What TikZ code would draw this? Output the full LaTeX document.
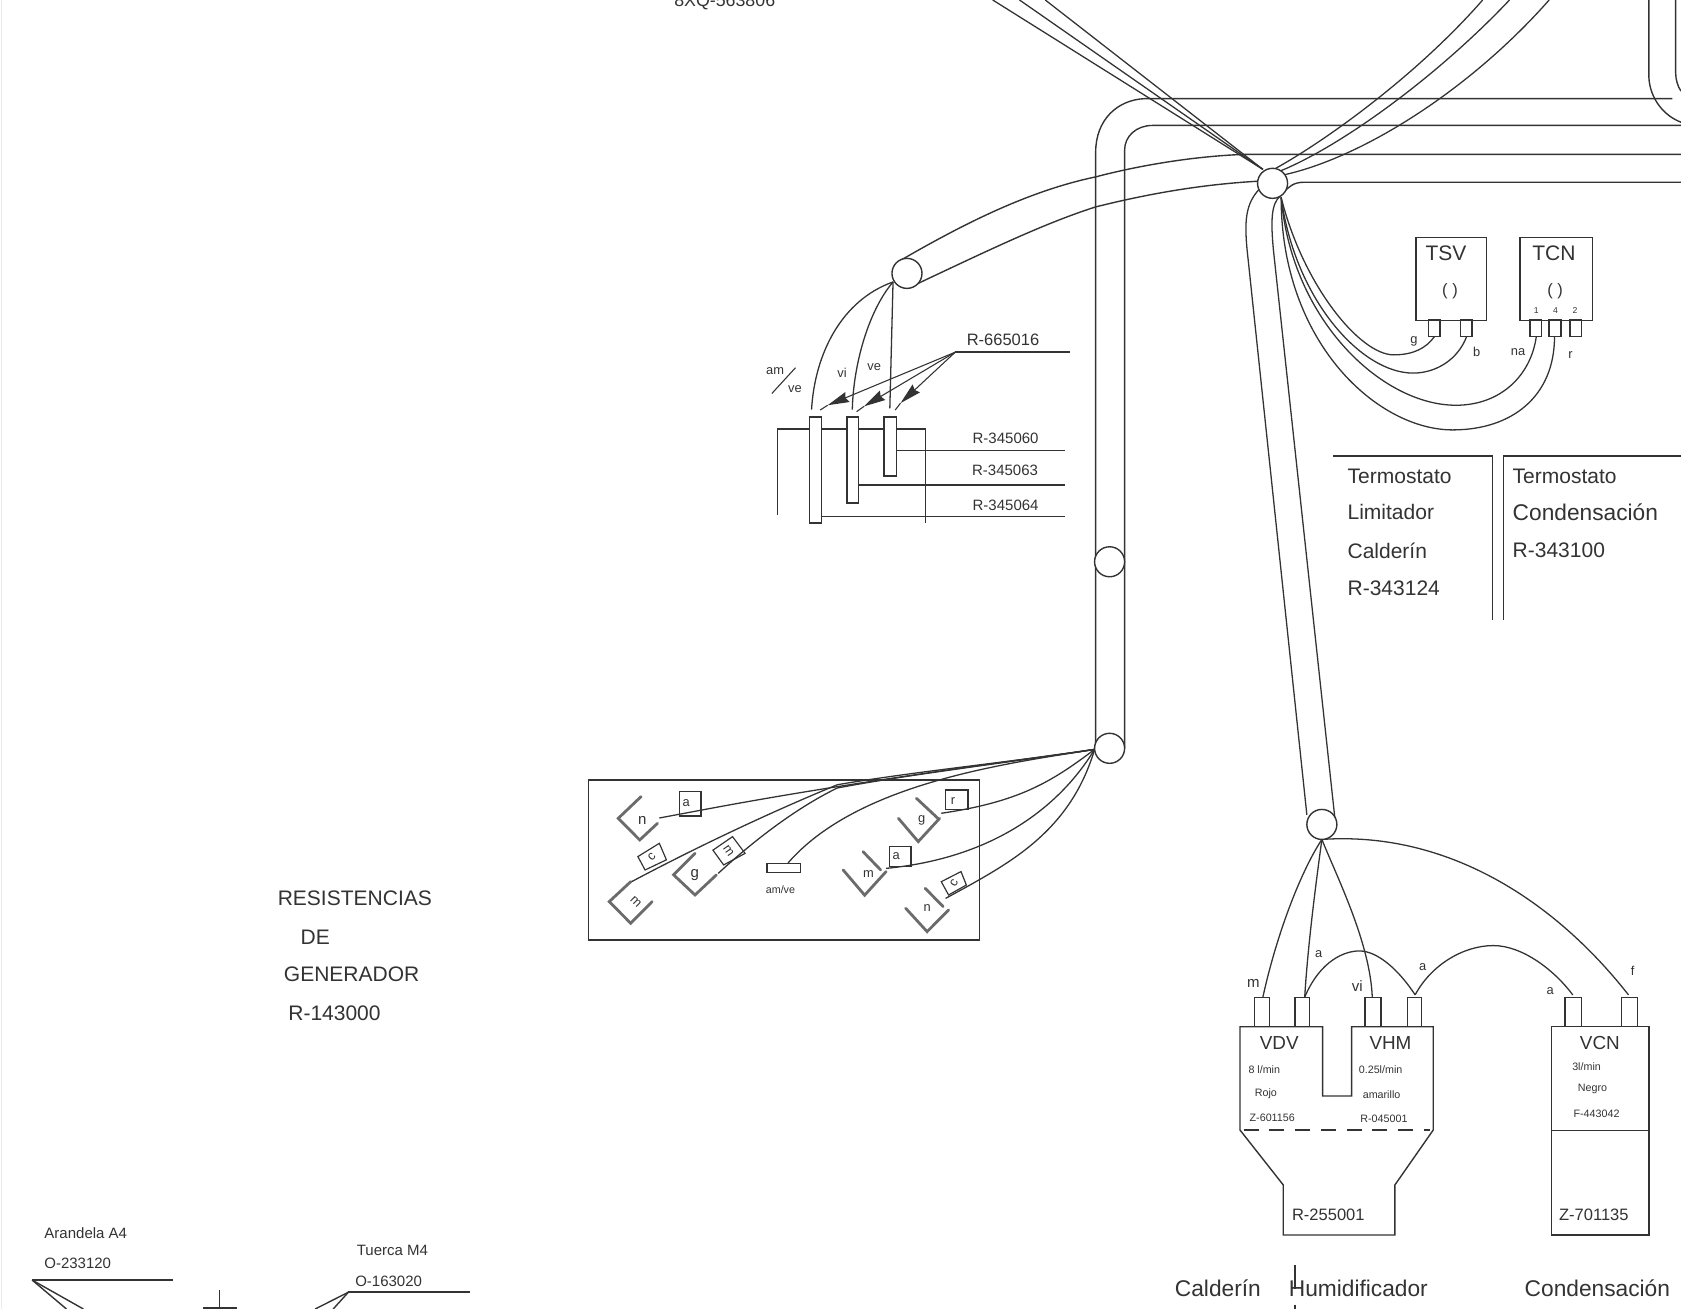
\documentclass[tikz,border=0pt]{standalone}
\usepackage{fontspec}
\setmainfont{Liberation Sans}
\usetikzlibrary{arrows.meta}
\definecolor{ink}{gray}{0.2}
\definecolor{lugc}{gray}{0.42}
\newcommand{\fz}[1]{\fontsize{#1pt}{#1pt}\selectfont}
\tikzset{
  wire/.style={draw=ink,line width=0.6pt},
  frame/.style={draw=ink,line width=0.65pt},
  lug/.style={draw=lugc,line width=1.3pt,line cap=round,line join=miter},
  lead/.style={draw=ink,line width=0.5pt},
  ring/.style={circle,draw=ink,line width=0.65pt,fill=white,minimum size=14pt,inner sep=0pt},
  lbl/.style={text=ink,inner sep=0pt,outer sep=0pt},
  t4/.style={lbl,font=\fz{4}},
  t5/.style={lbl,font=\fz{5}},
  t6/.style={lbl,font=\fz{6}},
  t7/.style={lbl,font=\fz{7}},
  t8/.style={lbl,font=\fz{7.7}},
  t9/.style={lbl,font=\fz{8.8}},
  t10/.style={lbl,font=\fz{9.8}},
  t11/.style={lbl,font=\fz{10.6}},
}
\begin{document}
\begin{tikzpicture}[x=0.5pt,y=-0.5pt]
\useasboundingbox (0,0) rectangle (1568,1221);
\fill[white] (0,0) rectangle (1568,1221);
\draw[black!8,line width=0.6pt] (1.5,0) -- (1.5,1221);

% ---- named junctions
\coordinate (hubNW) at (1178,158);
\coordinate (hubNE) at (1193,160);
\coordinate (hubS)  at (1195,184);
\coordinate (sP)    at (833,263);
\coordinate (qQ)    at (1021,699);
\coordinate (sS)    at (1233,783);
\coordinate (ldr)   at (891,328.5);

% ---- long vertical tube and top horizontals
\draw[frame] (1022,698) -- (1022,142) .. controls (1022,112) and (1042,93) .. (1068,92) -- (1560,92);
\draw[frame] (1049,698) -- (1049,140) .. controls (1049,127) and (1060,117) .. (1075,117) -- (1568,117);
% ---- upper right tube
\draw[frame] (1538,0) -- (1538,72) .. controls (1539,92) and (1552,108) .. (1568,114);
\draw[frame] (1563,0) -- (1563,68) .. controls (1563,74) and (1565,81) .. (1568,85);
% ---- tube to resistor plug
\draw[frame] (838,244) .. controls (900,208) and (960,178) .. (1022,165) .. controls (1060,155) and (1110,146) .. (1160,144) -- (1568,144);
\draw[frame] (855,265) .. controls (925,232) and (975,208) .. (1022,193) .. controls (1070,181) and (1120,172) .. (1174,169);
\draw[frame] (1197,180) .. controls (1202,174) and (1207,170) .. (1216,170) -- (1568,170);
% ---- wires to upper left
\draw[wire] (hubNW) -- (926,0);
\draw[wire] (hubNW) -- (951,0);
\draw[wire] (hubNW) -- (975,0);
% ---- wires to upper right
\draw[wire] (1190,157) .. controls (1235,132) and (1320,72) .. (1383,0);
\draw[wire] (1193,160) .. controls (1250,137) and (1340,72) .. (1408,0);
\draw[wire] (1198,163) .. controls (1270,147) and (1370,85) .. (1445,0);
% ---- tube down to heaters
\draw[wire] (1175,176) .. controls (1162,190) and (1160,205) .. (1164,240) -- (1219,760);
\draw[wire] (1194,183) .. controls (1186,190) and (1185,205) .. (1188,235) -- (1245,762);

% ---- thermostats
\node[draw=ink,line width=0.65pt,minimum width=33pt,minimum height=38.8pt,inner sep=0pt,anchor=north west] (tsv) at (1320,220.7) {};
\node[draw=ink,line width=0.65pt,minimum width=33.8pt,minimum height=38.8pt,inner sep=0pt,anchor=north west] (tcn) at (1417,220.7) {};
\draw[frame] (1332.5,298.4) rectangle (1343,314);
\draw[frame] (1362.5,298.4) rectangle (1373,314);
\draw[frame] (1427,298.4) rectangle (1438,314);
\draw[frame] (1445,298.4) rectangle (1456,314);
\draw[frame] (1464.5,298.4) rectangle (1475,314);
\node[t10] (ltsv) at (1348.8,236) {TSV};
\node[t10] (ltcn) at (1449.5,236) {TCN};
\node[t8] (ptsv) at (1352.5,272) {( )};
\node[t8] (ptcn) at (1450.5,272) {( )};
\node[t4] (p1) at (1433,290) {1};
\node[t4] (p4) at (1451,290) {4};
\node[t4] (p2) at (1469,290) {2};
\node[t6] (lg) at (1319,318.6) {g};
\node[t6] (lb) at (1377.4,328) {b};
\node[t6] (lna) at (1416,328) {na};
\node[t6] (lr) at (1465,331) {r};
\draw[wire] (hubS) .. controls (1215,265) and (1268,331) .. (1300,331) .. controls (1318,331) and (1330,325) .. (1338,314);
\draw[wire] (hubS) .. controls (1208,280) and (1270,348) .. (1318,348) .. controls (1340,348) and (1360,335) .. (1368,314);
\draw[wire] (hubS) .. controls (1205,300) and (1290,378) .. (1358,378) .. controls (1400,378) and (1428,350) .. (1433,314);
\draw[wire] (hubS) .. controls (1195,320) and (1285,401) .. (1355,401) .. controls (1410,401) and (1450,370) .. (1450,314);

% ---- thermostat panels
\draw[frame] (1243.7,425.3) -- (1392.3,425.3) -- (1392.3,578);
\draw[frame] (1402.3,578) -- (1402.3,425.3) -- (1568,425.3);
\node[t10,anchor=west] (tm1) at (1257,443.9) {Termostato};
\node[t10,anchor=west] (tm2) at (1257,478) {Limitador};
\node[t10,anchor=west] (tm3) at (1257,513.6) {Calderín};
\node[t10,anchor=west] (tm4) at (1257,548.7) {R-343124};
\node[t10,anchor=west] (tn1) at (1411,443.9) {Termostato};
\node[t11,anchor=west] (tn2) at (1411,478) {Condensación};
\node[t10,anchor=west] (tn3) at (1411,513.6) {R-343100};

% ---- plug with three terminals
\draw[wire] (sP) .. controls (785,280) and (760,330) .. (757,382);
\draw[wire] (sP) .. controls (810,290) and (796,340) .. (795,382);
\draw[wire] (sP) -- (830,381);
\draw[frame] (755,389) rectangle (766.5,488);
\draw[frame] (790,389) rectangle (801,469);
\draw[frame] (824.5,389) rectangle (836,444);
\draw[frame] (725,480) -- (725,400) -- (755,400) (766.5,400) -- (790,400) (801,400) -- (824.5,400) (836,400) -- (863,400) -- (863,488);
\draw[frame] (836,420) -- (993,420);
\draw[frame] (801,452.5) -- (993,452.5);
\draw[frame] (766.5,481.5) -- (993,481.5);
\draw[frame] (ldr) -- (998,328.5);
\draw[lead,-{Stealth[length=10pt,width=5pt,inset=1pt]}] (ldr) -- (772,378);
\draw[lead,-{Stealth[length=10pt,width=5pt,inset=1pt]}] (ldr) -- (806,379);
\draw[lead,-{Stealth[length=10pt,width=5pt,inset=1pt]}] (ldr) -- (840,376);
\draw[lead] (772,378) -- (765,382.5);
\draw[lead] (806,379) -- (799,384);
\draw[lead] (840,376) -- (835,382.5);
\node[t8] (l665) at (935.6,317) {R-665016};
\node[t7] (l060) at (938,408.5) {R-345060};
\node[t7] (l063) at (937.5,439) {R-345063};
\node[t7] (l064) at (938,471) {R-345064};
\node[t6] (lam) at (723,346) {am};
\node[t6] (lve) at (741.5,363) {ve};
\draw[lead] (742,343) -- (720,367);
\node[t6] (lvi) at (785.5,347.5) {vi};
\node[t6] (lve2) at (815.5,342.5) {ve};

% ---- resistor box
\node[draw=ink,line width=0.75pt,minimum width=182.5pt,minimum height=74.5pt,inner sep=0pt,anchor=north west] (resbox) at (548,727) {};
\draw[wire] (qQ) .. controls (930,712) and (790,730) .. (655,755.5) -- (615,763);
\draw[wire] (qQ) .. controls (950,710) and (850,720) .. (781,732) .. controls (720,757) and (650,790) .. (588,823);
\draw[wire] (qQ) .. controls (950,710) and (850,722) .. (781,735) .. controls (740,755) and (700,787) .. (670,814.6);
\draw[wire] (qQ) .. controls (940,712) and (800,730) .. (735,805);
\draw[wire] (qQ) .. controls (980,730) and (950,748) .. (878,758.6);
\draw[wire] (qQ) .. controls (990,750) and (930,800) .. (826.5,810);
\draw[wire] (qQ) .. controls (1000,770) and (950,800) .. (904.8,825.5) -- (882,838);

% lugs: left side
\draw[lug] (598,743) -- (576.7,763.3) -- (596.7,783.5) -- (613.3,768);
\node[t7] (un) at (599,765) {n};
\draw[lug] (588.3,822.4) -- (568.3,841) -- (588.3,861.2) -- (608.3,841);
\node[t6,rotate=-45] (um) at (593,841) {m};
\draw[lug] (648.3,796) -- (628.3,816) -- (648.3,834.8) -- (668.3,816);
\node[t7] (ug) at (648,816) {g};
\draw[frame] (634,738.4) rectangle (654,761);
\node[t6] (ua) at (640,749) {a};
\path[draw=ink,line width=0.55pt] (595,799) -- (615,786.6) -- (621.6,802) -- (601.7,811.5) -- cycle;
\node[t6,rotate=45] (uc) at (608,799) {c};
\path[draw=ink,line width=0.55pt] (665,793) -- (683.3,780.4) -- (695,796) -- (675,806.8) -- cycle;
\node[t6,rotate=-55] (uf) at (679.5,793.5) {m};
\draw[frame] (715.6,805.3) rectangle (746.5,814);
\node[t5] (uamve) at (728,830) {am/ve};
% lugs: right side
\draw[lug] (786.5,811.5) -- (806.5,835) -- (826.5,813);
\draw[lug] (805,794.4) -- (821.5,811.5);
\node[t6] (um2) at (810,815) {m};
\draw[lug] (838,763.3) -- (856.5,785) -- (876.5,763.3);
\draw[lug] (854.8,744.6) -- (874.8,763.3);
\node[t6] (ug2) at (859.8,765) {g};
\draw[lug] (844.8,847.2) -- (864.8,869) -- (884.8,848.8);
\draw[lug] (863,828.6) -- (879.8,845.7);
\node[t6] (un2) at (864.8,847) {n};
\draw[frame] (829.8,789.7) rectangle (849.8,808.4);
\node[t6] (ua2) at (836,799) {a};
\draw[frame] (882,737) rectangle (903,755);
\node[t6] (ur2) at (889,747) {r};
\path[draw=ink,line width=0.55pt,fill=white] (878,822.4) -- (896.4,813) -- (901.4,825.5) -- (884.8,834.8) -- cycle;
\node[t6,rotate=60] (uc2) at (890,824) {c};

% ---- heater blocks
\draw[frame] (1156.6,957.7) -- (1233.7,957.7) -- (1233.7,1022.3) -- (1260.7,1022.3) -- (1260.7,957.7) -- (1336.9,957.7) -- (1336.9,1054) -- (1301.1,1105.3) -- (1301.1,1152) -- (1197,1152) -- (1197,1105.3) -- (1156.6,1054) -- cycle;
\draw[draw=ink,line width=0.5pt,dash pattern=on 7pt off 5pt] (1160,1054) -- (1334,1054);
\draw[frame] (1447.3,957.7) rectangle (1538,1152);
\draw[frame] (1447.3,1054.7) -- (1538,1054.7);
\foreach \xa/\xb in {1170/1184,1207.9/1221.2,1273.1/1288,1312.6/1326,1459.7/1475.2,1512.5/1527.5}
  \draw[frame] (\xa,957.7) -- (\xa,930.6) -- (\xb,930.6) -- (\xb,957.7);
\draw[wire] (sS) .. controls (1212,815) and (1190,875) .. (1178,930);
\draw[wire] (sS) .. controls (1228,820) and (1220,880) .. (1217,930);
\draw[wire] (sS) .. controls (1248,820) and (1278,880) .. (1280,930);
\draw[wire] (sS) .. controls (1350,775) and (1450,840) .. (1519,928);
\draw[wire] (1217,930) .. controls (1232,895) and (1255,887) .. (1268,887) .. controls (1285,887) and (1305,905) .. (1320,928);
\draw[wire] (1320,928) .. controls (1335,900) and (1365,882) .. (1393,882) .. controls (1420,882) and (1450,905) .. (1467,928);
\node[t7] (wm) at (1169,917) {m};
\node[t6] (wa) at (1230,890) {a};
\node[t7] (wvi) at (1266,920) {vi};
\node[t6] (wa2) at (1327,902) {a};
\node[t6] (wa3) at (1446,924) {a};
\node[t6] (wf) at (1523,906) {f};
\node[t9] (vdv) at (1193.2,973) {VDV};
\node[t9] (vhm) at (1297,973) {VHM};
\node[t9] (vcn) at (1492.3,972.6) {VCN};
\node[t5] (a1) at (1179.3,998) {8 l/min};
\node[t5] (a2) at (1180.8,1020.5) {Rojo};
\node[t5] (a3) at (1186.7,1043) {Z-601156};
\node[t5] (b1) at (1287.8,998) {0.25l/min};
\node[t5] (b2) at (1288.7,1021.4) {amarillo};
\node[t5] (b3) at (1290.9,1043.8) {R-045001};
\node[t5] (c1) at (1479.9,995) {3l/min};
\node[t5] (c2) at (1485.5,1016) {Negro};
\node[t5] (c3) at (1489.2,1038.5) {F-443042};
\node[t8] (r255) at (1239,1133.3) {R-255001};
\node[t8] (z701) at (1486.7,1133.3) {Z-701135};
\node[t11] (cald) at (1136,1202) {Calderín};
\node[t11] (humi) at (1267,1202) {Humidificador};
\node[t11] (cond) at (1490,1202) {Condensación};
\draw[frame] (1208,1180) -- (1208,1202);
\draw[frame] (1208,1217) -- (1208,1221);

% ---- rings on top
\node[ring] (hub) at (1187,171) {};
\node[ring] (tubeL) at (846,255) {};
\node[ring] (tubeA) at (1035,524) {};
\node[ring] (tubeB) at (1035,698) {};
\node[ring] (tubeC) at (1233,769) {};

% ---- free text
\node[t10] (res1) at (331,838) {RESISTENCIAS};
\node[t10] (res2) at (294,874) {DE};
\node[t10] (res3) at (328,909) {GENERADOR};
\node[t10] (res4) at (312,945) {R-143000};
\node[lbl,font=\fz{8.3}] (top) at (676,2) {8XQ-563806};
\node[t7] (ar1) at (80,1150) {Arandela A4};
\node[t7] (ar2) at (72.5,1178) {O-233120};
\node[t7] (tu1) at (366,1166) {Tuerca M4};
\node[t7] (tu2) at (362.5,1195.5) {O-163020};
\draw[frame] (30,1194) -- (161.6,1194);
\draw[frame] (30,1194) -- (62,1221);
\draw[frame] (30,1194) -- (77.8,1221);
\draw[frame] (325,1205.3) -- (438.4,1205.3);
\draw[frame] (325,1205.3) -- (294,1221);
\draw[frame] (325,1205.3) -- (310.8,1221);
\draw[frame] (205,1203) -- (205,1221);
\draw[line width=1.2pt,draw=ink] (189.7,1220) -- (220.6,1220);
\end{tikzpicture}
\end{document}
